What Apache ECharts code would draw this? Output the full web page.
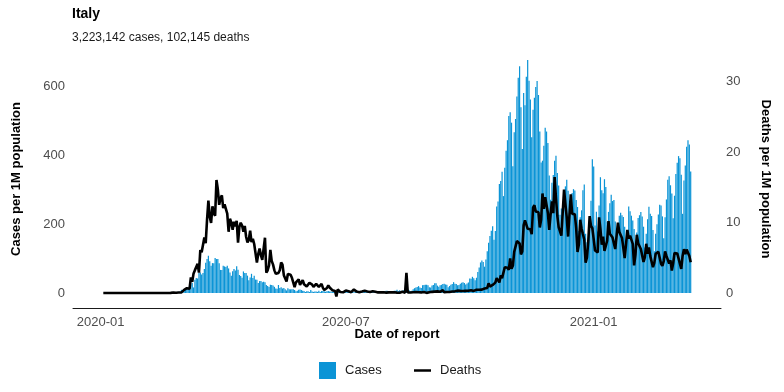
<!DOCTYPE html>
<html>
<head>
<meta charset="utf-8">
<script src="https://cdn.jsdelivr.net/npm/echarts@6/dist/echarts.min.js"></script>
<style>
html,body{margin:0;padding:0;background:#fff;}
#chart{width:784px;height:392px;}
</style>
</head>
<body>
<div id="chart"></div>
<script>
// ---- data (daily reported counts, Italy) ----
const POP_MILLIONS = 60.46;
const firstDay = [2020, 0, 3];           // 2020-01-03
const axisStart = [2019, 11, 12];        // padding start of x axis
const axisDays = 481;                    // 2019-12-12 .. 2021-04-05
const xTickLabels = ['2020-01', '2020-07', '2021-01'];
const leftTicks = [0, 200, 400, 600];
const rightTicks = [0, 10, 20, 30];

const dailyCases = [
  // 2020-01 (from 3rd)
  0,0,0,0,0,0,0,0,0,0, 0,0,0,0,0,0,0,0,0,0, 0,0,0,0,0,0,0,0, 2,
  // 2020-02
  0,0,0,0,0,1, 0,0,0,0,0,0,0,0,0,0,0,0,0,0, 17,62,76,74,93,131,202,233,240,
  // 2020-03
  566,342,466,587,769,778,1247,1492,1797,977,2313,2651,2547,3497,3590,3233,3526,4207,5322,5986,6557,5560,4789,5249,5210,6153,5959,5974,5217,4050,4053,
  // 2020-04
  4782,4668,4585,4805,4316,3599,3039,3836,4204,3951,4694,4092,3153,2972,2667,3786,3493,3491,3047,2256,2729,3370,2646,3021,2357,2324,1739,2091,2086,1872,
  // 2020-05
  1965,1900,1389,1221,1075,1444,1401,1327,1083,802,744,1402,888,992,789,875,675,451,813,665,642,652,669,531,300,397,584,593,516,416,355,
  // 2020-06
  178,318,321,177,518,270,197,280,283,202,379,163,346,338,301,210,329,333,251,262,224,218,122,190,296,259,175,174,126,142,
  // 2020-07
  187,201,223,235,192,208,138,193,229,276,188,234,169,114,162,230,233,249,219,218,129,282,306,252,275,255,170,181,212,289,386,
  // 2020-08
  379,295,239,159,190,384,402,552,347,463,259,412,481,523,574,629,479,320,403,642,845,947,1071,1210,953,878,1367,1411,1460,1444,1365,
  // 2020-09
  996,978,1326,1397,1733,1695,1297,1108,1370,1434,1597,1616,1501,1458,1008,1229,1452,1585,1907,1638,1587,1350,1392,1640,1786,1869,1766,1494,1648,1851,
  // 2020-10
  2548,2499,2844,2578,2257,2677,3678,4458,5372,5724,5456,4619,5901,7332,8804,10010,10925,11705,9338,10874,15199,16079,19143,19644,21273,17012,21994,24991,26831,31084,31758,
  // 2020-11
  29907,22253,28244,30550,34505,37809,39811,32616,25271,35098,32961,37978,40902,37255,33979,27354,32191,34283,36176,37242,34767,28337,22930,23232,25853,29003,28352,26323,20648,16377,
  // 2020-12
  19350,20709,23225,24099,21052,18887,13720,14842,12756,16999,18727,19903,17938,12030,14844,17572,18236,17992,16308,15104,10872,13318,14522,18040,19037,10407,8913,8585,11212,16202,23477,
  // 2021-01
  22211,11831,14245,10800,15378,20331,18020,17533,19978,18627,12532,14242,15774,17246,16146,16310,12545,8824,10497,13571,14078,13633,13331,11629,8561,10593,15204,14372,13574,12715,11252,
  // 2021-02
  7925,10630,13189,13659,14218,13442,11641,7970,10404,12956,15146,13908,13532,11068,7351,10386,12074,13762,15479,15370,13452,9630,13314,16424,19886,20499,18916,17455,
  // 2021-03
  13114,17083,20884,22865,24036,23641,20765,13902,19749,22409,25673,26824,26062,21315
];

const dailyDeaths = [
  // 2020-01 (from 3rd)
  0,0,0,0,0,0,0,0,0,0, 0,0,0,0,0,0,0,0,0,0, 0,0,0,0,0,0,0,0,0,
  // 2020-02
  0,0,0,0,0,0,0,0,0,0, 0,0,0,0,0,0,0,0,0,0, 1,1,1,4,3,2,5,4,8,
  // 2020-03
  5,18,27,28,41,49,36,133,97,168,196,189,250,175,368,349,345,475,427,627,793,651,601,743,683,662,969,889,756,812,837,
  // 2020-04
  727,760,766,681,525,636,604,542,610,570,619,431,566,602,578,525,575,482,433,454,534,437,464,420,415,260,333,382,323,285,
  // 2020-05
  269,474,174,195,236,369,274,243,194,165,179,172,195,262,242,153,145,99,162,161,156,130,119,50,92,78,117,70,87,111,75,
  // 2020-06
  60,55,71,88,85,72,53,65,79,71,53,56,78,44,26,34,43,66,47,49,24,23,18,-30,30,30,8,24,6,23,
  // 2020-07
  21,30,15,21,7,8,30,15,12,12,7,7,13,17,20,11,13,11,9,13,15,17,11,10,5,5,5,11,6,5,3,
  // 2020-08
  3,5,5,5,10,6,3,3,13,2,6,10,6,3,172,4,7,4,6,7,3,9,4,7,4,5,13,9,5,1,4,
  // 2020-09
  6,8,10,16,12,7,14,10,10,10,24,6,14,9,14,9,10,13,24,14,14,20,17,18,20,17,16,18,24,19,
  // 2020-10
  24,23,27,18,16,28,31,28,28,29,26,39,41,43,83,55,47,69,73,89,127,136,91,151,128,141,221,205,217,199,297,
  // 2020-11
  208,233,353,352,445,446,425,331,356,580,623,636,550,544,546,504,731,753,699,699,692,562,630,853,722,822,827,686,541,672,
  // 2020-12
  785,684,993,814,662,564,528,491,499,887,761,649,484,491,846,680,683,674,553,352,415,628,553,505,459,261,305,445,659,575,555,
  // 2021-01
  462,364,347,348,649,548,414,483,361,361,448,616,507,522,475,477,377,377,603,524,521,472,488,299,420,541,467,492,477,421,237,
  // 2021-02
  329,499,426,421,377,385,266,307,422,336,391,316,311,221,258,336,347,353,347,251,232,274,356,318,308,253,280,192,
  // 2021-03
  255,343,347,339,297,307,207,318,376,332,373,380,317,264
];

// ---- helpers ----
function fmt(d){
  const m = d.getMonth()+1, day = d.getDate();
  return d.getFullYear() + '-' + (m<10?'0':'') + m + '-' + (day<10?'0':'') + day;
}
const categories = [];
{
  const d = new Date(axisStart[0], axisStart[1], axisStart[2]);
  for (let i = 0; i < axisDays; i++) { categories.push(fmt(d)); d.setDate(d.getDate()+1); }
}
const dataDates = [];
{
  const d = new Date(firstDay[0], firstDay[1], firstDay[2]);
  for (let i = 0; i < dailyCases.length; i++) { dataDates.push(fmt(d)); d.setDate(d.getDate()+1); }
}
const casesSeries = dataDates.map((dt, i) => [dt, dailyCases[i] / POP_MILLIONS]);
const deathsSeries = dataDates.map((dt, i) => [dt, dailyDeaths[i] / POP_MILLIONS]);

// layout: value 0 sits at y=293, axis line at y=308, plot top at y=50
const TOP = 50, ZERO_Y = 293, AXIS_Y = 308;
const leftPx = 206.6 / 600, rightPx = 211.6 / 30;
const leftMin = -(AXIS_Y - ZERO_Y) / leftPx, leftMax = (ZERO_Y - TOP) / leftPx;
const rightMin = -(AXIS_Y - ZERO_Y) / rightPx, rightMax = (ZERO_Y - TOP) / rightPx;

const BLUE = '#0b94d6';
const chart = echarts.init(document.getElementById('chart'), null, {renderer: 'canvas'});
chart.setOption({
  animation: false,
  backgroundColor: '#ffffff',
  textStyle: {fontFamily: 'Liberation Sans, Arial, sans-serif'},
  title: {
    text: 'Italy',
    subtext: '3,223,142 cases, 102,145 deaths',
    left: 72, top: 7, itemGap: 11, padding: 0,
    textStyle: {fontSize: 14, fontWeight: 'bold', color: '#000'},
    subtextStyle: {fontSize: 12, color: '#1a1a1a'}
  },
  grid: {left: 73, right: 63, top: TOP, bottom: 392 - AXIS_Y, containLabel: false},
  xAxis: {
    type: 'category',
    data: categories,
    axisLine: {show: true, onZero: false, lineStyle: {color: '#1a1a1a', width: 1}},
    axisTick: {show: false},
    axisLabel: {
      color: '#4d4d4d', fontSize: 13, margin: 8,
      interval: (idx, val) => xTickLabels.includes(val.slice(0, 7)) && val.slice(8) === '01',
      formatter: v => v.slice(0, 7)
    },
    name: 'Date of report',
    nameLocation: 'middle', nameGap: 20, nameMoveOverlap: false,
    nameTextStyle: {fontSize: 13, fontWeight: 'bold', color: '#000'},
    splitLine: {show: false}
  },
  yAxis: [
    {
      type: 'value', min: leftMin, max: leftMax,
      axisLine: {show: false}, axisTick: {show: false}, splitLine: {show: false},
      axisLabel: {color: '#4d4d4d', fontSize: 13, margin: 8, customValues: leftTicks,
        formatter: v => String(Math.round(v))},
      name: 'Cases per 1M population', nameLocation: 'middle', nameGap: 50, nameRotate: 90,
      nameTextStyle: {fontSize: 13, fontWeight: 'bold', color: '#000'}
    },
    {
      type: 'value', min: rightMin, max: rightMax, position: 'right',
      axisLine: {show: false}, axisTick: {show: false}, splitLine: {show: false},
      axisLabel: {color: '#4d4d4d', fontSize: 13, margin: 5, customValues: rightTicks,
        formatter: v => String(Math.round(v))},
      name: 'Deaths per 1M population', nameLocation: 'middle', nameGap: 38, nameRotate: -90,
      nameTextStyle: {fontSize: 13, fontWeight: 'bold', color: '#000'}
    }
  ],
  graphic: [
    {type: 'rect', shape: {x: 319, y: 362, width: 17, height: 17}, style: {fill: BLUE}},
    {type: 'text', x: 345, y: 370.5, style: {text: 'Cases', fill: '#1a1a1a', font: '13px Liberation Sans, Arial, sans-serif', verticalAlign: 'middle', align: 'left'}},
    {type: 'line', shape: {x1: 414, y1: 370.5, x2: 431, y2: 370.5}, style: {stroke: '#000', lineWidth: 2.5}},
    {type: 'text', x: 440, y: 370.5, style: {text: 'Deaths', fill: '#1a1a1a', font: '13px Liberation Sans, Arial, sans-serif', verticalAlign: 'middle', align: 'left'}}
  ],
  series: [
    {
      name: 'Cases', type: 'bar', yAxisIndex: 0,
      data: casesSeries,
      barCategoryGap: '10%',
      itemStyle: {color: BLUE}
    },
    {
      name: 'Deaths', type: 'line', yAxisIndex: 1,
      data: deathsSeries,
      showSymbol: false, symbol: 'none',
      lineStyle: {color: '#000', width: 2.6},
      itemStyle: {color: '#000'}
    }
  ]
});
</script>
</body>
</html>
